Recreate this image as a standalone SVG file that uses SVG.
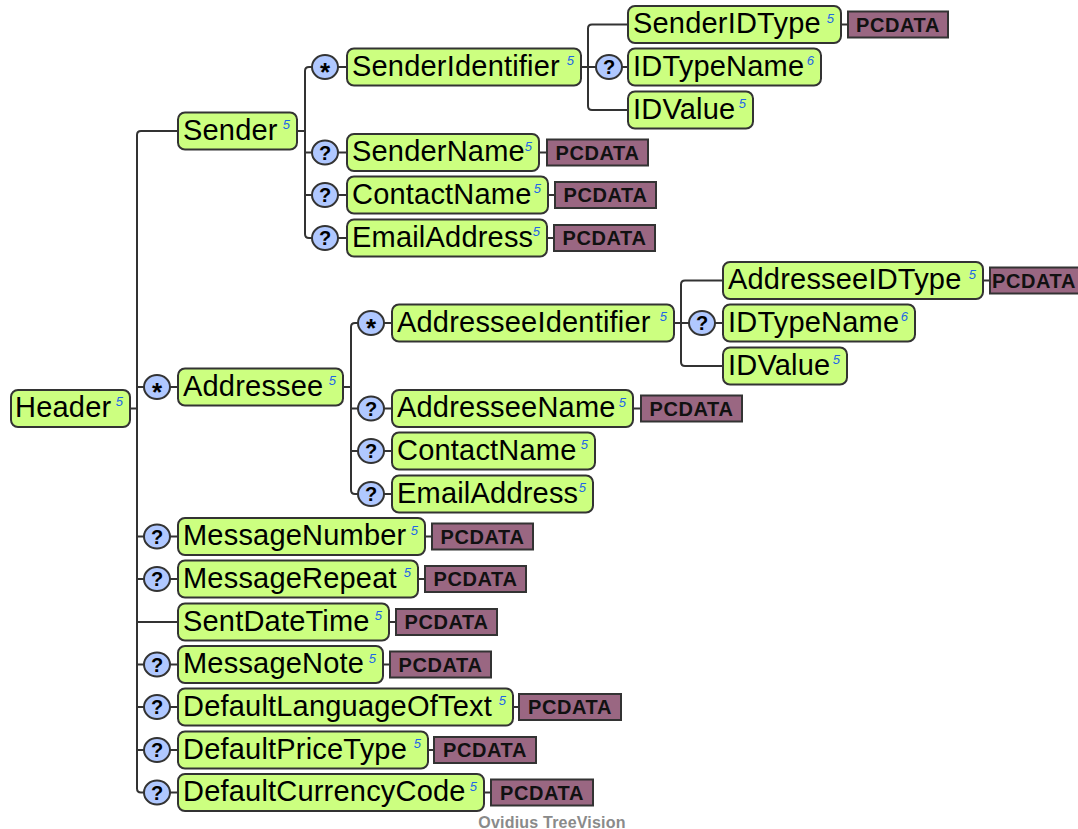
<svg xmlns="http://www.w3.org/2000/svg" width="1078" height="829" viewBox="0 0 1078 829">
<style>
.n{fill:#ccff80;stroke:#333;stroke-width:2}
.t{font-family:"Liberation Sans",Arial,sans-serif;font-size:29px;letter-spacing:0.2px;fill:#000}
.s{font-family:"Liberation Sans",Arial,sans-serif;font-size:13px;font-style:italic;fill:#1e66e6;text-anchor:end}
.o{fill:#b0c8ff;stroke:#333;stroke-width:2}
.q{font-family:"Liberation Sans",Arial,sans-serif;font-size:20px;font-weight:bold;fill:#000;text-anchor:middle}
.a{font-family:"Liberation Sans",Arial,sans-serif;font-size:26px;font-weight:bold;fill:#000;text-anchor:middle}
.p{fill:#9a6782;stroke:#333;stroke-width:2}
.pt{font-family:"Liberation Sans",Arial,sans-serif;font-size:20px;font-weight:bold;fill:#111;text-anchor:middle;letter-spacing:0.6px}
.c{fill:none;stroke:#333;stroke-width:2}
.f{font-family:"Liberation Sans",Arial,sans-serif;font-size:16px;font-weight:bold;fill:#8a8a8a;text-anchor:middle;letter-spacing:0.2px}
</style>
<rect width="1078" height="829" fill="#fff"/>
<g id="connectors">
<path class="c" d="M130 408.5H137"/>
<path class="c" d="M178 131H141Q137 131 137 135V788.5Q137 792.5 141 792.5H144"/>
<path class="c" d="M137 387H144M170 387H178"/>
<path class="c" d="M137 536.5H144M170 536.5H178"/>
<path class="c" d="M137 579H144M170 579H178"/>
<path class="c" d="M137 622H178"/>
<path class="c" d="M137 664.5H144M170 664.5H178"/>
<path class="c" d="M137 707H144M170 707H178"/>
<path class="c" d="M137 750H144M170 750H178"/>
<path class="c" d="M170 792.5H178"/>
<path class="c" d="M297 131H305"/>
<path class="c" d="M312 67H309Q305 67 305 71V234Q305 238 309 238H312"/>
<path class="c" d="M305 152.5H312M305 195H312"/>
<path class="c" d="M338 67H347M338 152.5H347M338 195H347M338 238H347"/>
<path class="c" d="M581 67H588"/>
<path class="c" d="M628 24.5H592Q588 24.5 588 28.5V106Q588 110 592 110H628"/>
<path class="c" d="M588 67H596M622 67H628"/>
<path class="c" d="M343 387H351"/>
<path class="c" d="M358 323H355Q351 323 351 327V490Q351 494 355 494H358"/>
<path class="c" d="M351 408.5H358M351 451H358"/>
<path class="c" d="M384 323H392M384 408.5H392M384 451H392M384 494H392"/>
<path class="c" d="M674 323H681"/>
<path class="c" d="M723 280.5H685Q681 280.5 681 284.5V362Q681 366 685 366H723"/>
<path class="c" d="M681 323H689M715 323H723"/>
<path class="c" d="M841 24.5H848M539 152.5H547M548 195H555M547 238H554M983 280.5H990M633 408.5H641M425 536.5H432M418 579H425M389 622H396M383 664.5H390M513 707H519M428 750H434M484 792.5H491"/>
</g>
<g id="header">
<rect class="n" x="11" y="390" width="119" height="37" rx="7"/>
<text class="t" x="15" y="417">Header</text><text class="s" x="123" y="406">5</text>
</g>
<g id="sender">
<rect class="n" x="178" y="112.5" width="119" height="37" rx="7"/>
<text class="t" x="183" y="139.5">Sender</text><text class="s" x="290" y="129">5</text>
</g>
<g id="senderidentifier">
<ellipse class="o" cx="325" cy="67" rx="13" ry="12"/><text class="a" x="325" y="80.5">*</text>
<rect class="n" x="347" y="48.5" width="234" height="37" rx="7"/>
<text class="t" x="352" y="75.5">SenderIdentifier</text><text class="s" x="574" y="65">5</text>
</g>
<g id="senderidtype">
<rect class="n" x="628" y="6" width="213" height="37" rx="7"/>
<text class="t" x="633" y="33">SenderIDType</text><text class="s" x="834" y="22.5">5</text>
<rect class="p" x="848" y="11.5" width="100" height="26"/><text class="pt" x="898" y="31.5">PCDATA</text>
</g>
<g id="sender-idtypename">
<ellipse class="o" cx="609" cy="67" rx="13" ry="12"/><text class="q" x="609" y="74">?</text>
<rect class="n" x="628" y="48.5" width="193" height="37" rx="7"/>
<text class="t" x="633" y="75.5">IDTypeName</text><text class="s" x="814" y="65">6</text>
</g>
<g id="sender-idvalue">
<rect class="n" x="628" y="91.5" width="125" height="37" rx="7"/>
<text class="t" x="633" y="118.5">IDValue</text><text class="s" x="746" y="108">5</text>
</g>
<g id="sendername">
<ellipse class="o" cx="325" cy="152.5" rx="13" ry="12"/><text class="q" x="325" y="159.5">?</text>
<rect class="n" x="347" y="134" width="192" height="37" rx="7"/>
<text class="t" x="352" y="161">SenderName</text><text class="s" x="532" y="150.5">5</text>
<rect class="p" x="547" y="139.5" width="101" height="26"/><text class="pt" x="597.5" y="159.5">PCDATA</text>
</g>
<g id="sender-contactname">
<ellipse class="o" cx="325" cy="195" rx="13" ry="12"/><text class="q" x="325" y="202">?</text>
<rect class="n" x="347" y="176.5" width="201" height="37" rx="7"/>
<text class="t" x="352" y="203.5">ContactName</text><text class="s" x="541" y="193">5</text>
<rect class="p" x="555" y="182" width="101" height="26"/><text class="pt" x="605.5" y="202">PCDATA</text>
</g>
<g id="sender-emailaddress">
<ellipse class="o" cx="325" cy="238" rx="13" ry="12"/><text class="q" x="325" y="245">?</text>
<rect class="n" x="347" y="219.5" width="200" height="37" rx="7"/>
<text class="t" x="352" y="246.5">EmailAddress</text><text class="s" x="540" y="236">5</text>
<rect class="p" x="554" y="225" width="101" height="26"/><text class="pt" x="604.5" y="245">PCDATA</text>
</g>
<g id="addressee">
<ellipse class="o" cx="157" cy="387" rx="13" ry="12"/><text class="a" x="157" y="400.5">*</text>
<rect class="n" x="178" y="368.5" width="165" height="37" rx="7"/>
<text class="t" x="183" y="395.5">Addressee</text><text class="s" x="336" y="385">5</text>
</g>
<g id="addresseeidentifier">
<ellipse class="o" cx="371" cy="323" rx="13" ry="12"/><text class="a" x="371" y="336.5">*</text>
<rect class="n" x="392" y="304.5" width="282" height="37" rx="7"/>
<text class="t" x="397" y="331.5">AddresseeIdentifier</text><text class="s" x="667" y="321">5</text>
</g>
<g id="addresseeidtype">
<rect class="n" x="723" y="262" width="260" height="37" rx="7"/>
<text class="t" x="728" y="289">AddresseeIDType</text><text class="s" x="976" y="278.5">5</text>
<rect class="p" x="990" y="267.5" width="101" height="26"/><text class="pt" x="1034" y="287.5" letter-spacing="0">PCDATA</text>
</g>
<g id="addressee-idtypename">
<ellipse class="o" cx="702" cy="323" rx="13" ry="12"/><text class="q" x="702" y="330">?</text>
<rect class="n" x="723" y="304.5" width="192" height="37" rx="7"/>
<text class="t" x="728" y="331.5">IDTypeName</text><text class="s" x="908" y="321">6</text>
</g>
<g id="addressee-idvalue">
<rect class="n" x="723" y="347.5" width="124" height="37" rx="7"/>
<text class="t" x="728" y="374.5">IDValue</text><text class="s" x="840" y="364">5</text>
</g>
<g id="addresseename">
<ellipse class="o" cx="371" cy="408.5" rx="13" ry="12"/><text class="q" x="371" y="415.5">?</text>
<rect class="n" x="392" y="390" width="241" height="37" rx="7"/>
<text class="t" x="397" y="417">AddresseeName</text><text class="s" x="626" y="406.5">5</text>
<rect class="p" x="641" y="395.5" width="101" height="26"/><text class="pt" x="691.5" y="415.5">PCDATA</text>
</g>
<g id="addressee-contactname">
<ellipse class="o" cx="371" cy="451" rx="13" ry="12"/><text class="q" x="371" y="458">?</text>
<rect class="n" x="392" y="432.5" width="203" height="37" rx="7"/>
<text class="t" x="397" y="459.5">ContactName</text><text class="s" x="588" y="449">5</text>
</g>
<g id="addressee-emailaddress">
<ellipse class="o" cx="371" cy="494" rx="13" ry="12"/><text class="q" x="371" y="501">?</text>
<rect class="n" x="392" y="475.5" width="201" height="37" rx="7"/>
<text class="t" x="397" y="502.5">EmailAddress</text><text class="s" x="586" y="492">5</text>
</g>
<g id="messagenumber">
<ellipse class="o" cx="157" cy="536.5" rx="13" ry="12"/><text class="q" x="157" y="543.5">?</text>
<rect class="n" x="178" y="518" width="247" height="37" rx="7"/>
<text class="t" x="183" y="545">MessageNumber</text><text class="s" x="418" y="534.5">5</text>
<rect class="p" x="432" y="523.5" width="101" height="26"/><text class="pt" x="482.5" y="543.5">PCDATA</text>
</g>
<g id="messagerepeat">
<ellipse class="o" cx="157" cy="579" rx="13" ry="12"/><text class="q" x="157" y="586">?</text>
<rect class="n" x="178" y="560.5" width="240" height="37" rx="7"/>
<text class="t" x="183" y="587.5">MessageRepeat</text><text class="s" x="411" y="577">5</text>
<rect class="p" x="425" y="566" width="101" height="26"/><text class="pt" x="475.5" y="586">PCDATA</text>
</g>
<g id="sentdatetime">
<rect class="n" x="178" y="603.5" width="211" height="37" rx="7"/>
<text class="t" x="183" y="630.5">SentDateTime</text><text class="s" x="382" y="620">5</text>
<rect class="p" x="396" y="609" width="101" height="26"/><text class="pt" x="446.5" y="629">PCDATA</text>
</g>
<g id="messagenote">
<ellipse class="o" cx="157" cy="664.5" rx="13" ry="12"/><text class="q" x="157" y="671.5">?</text>
<rect class="n" x="178" y="646" width="205" height="37" rx="7"/>
<text class="t" x="183" y="673">MessageNote</text><text class="s" x="376" y="662.5">5</text>
<rect class="p" x="390" y="651.5" width="101" height="26"/><text class="pt" x="440.5" y="671.5">PCDATA</text>
</g>
<g id="defaultlanguageoftext">
<ellipse class="o" cx="157" cy="707" rx="13" ry="12"/><text class="q" x="157" y="714">?</text>
<rect class="n" x="178" y="688.5" width="335" height="37" rx="7"/>
<text class="t" x="183" y="715.5">DefaultLanguageOfText</text><text class="s" x="506" y="705">5</text>
<rect class="p" x="519" y="694" width="102" height="26"/><text class="pt" x="570" y="714">PCDATA</text>
</g>
<g id="defaultpricetype">
<ellipse class="o" cx="157" cy="750" rx="13" ry="12"/><text class="q" x="157" y="757">?</text>
<rect class="n" x="178" y="731.5" width="250" height="37" rx="7"/>
<text class="t" x="183" y="758.5">DefaultPriceType</text><text class="s" x="421" y="748">5</text>
<rect class="p" x="434" y="737" width="102" height="26"/><text class="pt" x="485" y="757">PCDATA</text>
</g>
<g id="defaultcurrencycode">
<ellipse class="o" cx="157" cy="792.5" rx="13" ry="12"/><text class="q" x="157" y="799.5">?</text>
<rect class="n" x="178" y="774" width="306" height="37" rx="7"/>
<text class="t" x="183" y="801">DefaultCurrencyCode</text><text class="s" x="477" y="790.5">5</text>
<rect class="p" x="491" y="779.5" width="102" height="26"/><text class="pt" x="542" y="799.5">PCDATA</text>
</g>
<text class="f" x="552" y="828">Ovidius TreeVision</text>
</svg>
